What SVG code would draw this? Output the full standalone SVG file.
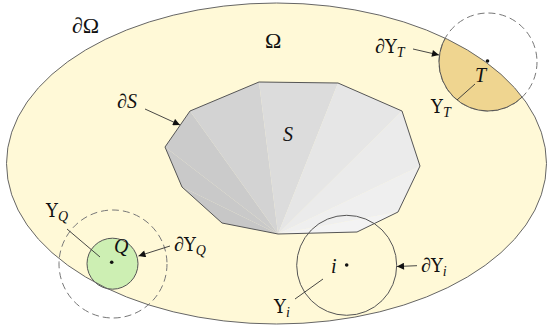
<svg xmlns="http://www.w3.org/2000/svg" width="547" height="332" viewBox="0 0 547 332">
<style>
text{font-family:"Liberation Serif","DejaVu Serif",serif;fill:#111}
.lbl{font-size:20px}
.big{font-size:22px}
.it{font-style:italic}
.up{font-family:"DejaVu Serif",serif;font-size:18px}
.sub{font-size:14px;font-style:italic;font-family:"Liberation Serif",serif}
.ln{stroke:#333;stroke-width:0.9;fill:none}
.dash{fill:none;stroke:#777;stroke-width:1;stroke-dasharray:7 4}
.edge{stroke:#555;stroke-width:1}
.dot{fill:#111}
</style>
<defs>
<clipPath id="inEll"><ellipse cx="276.5" cy="163.5" rx="270" ry="160.5"/></clipPath>
<marker id="ah" viewBox="0 0 10 10" refX="10" refY="5" markerWidth="8" markerHeight="7" markerUnits="userSpaceOnUse" orient="auto"><path d="M0,0 L10,5 L0,10 z" fill="#111"/></marker>
</defs>
<g id="domain">
<ellipse cx="276.5" cy="163.5" rx="270" ry="160.5" fill="#fff9d7"/>
<text class="big" x="72" y="33">∂Ω</text>
<text class="big" x="265" y="48">Ω</text>
</g>
<g id="S">
<g stroke="none">
<polygon points="278,234 222,223 182,187" fill="#c7c7c7"/>
<polygon points="278,234 182,187 165,147" fill="#c9c9c9"/>
<polygon points="278,234 165,147 190,111" fill="#cbcbcb"/>
<polygon points="278,234 190,111 259,82" fill="#d3d3d3"/>
<polygon points="278,234 259,82 338,83" fill="#dcdcdc"/>
<polygon points="278,234 338,83 402,111" fill="#e6e6e6"/>
<polygon points="278,234 402,111 420,166" fill="#ebebeb"/>
<polygon points="278,234 420,166 398,212" fill="#efefef"/>
<polygon points="278,234 398,212 357,232" fill="#f3f3f3"/>
</g>
<polygon points="259,82 338,83 402,111 420,166 398,212 357,232 278,234 222,223 182,187 165,147 190,111" fill="none" class="edge"/>
<text class="lbl it" x="283" y="141">S</text>
<text class="lbl" x="117" y="108">∂<tspan class="it">S</tspan></text>
</g>
<g id="T">
<circle cx="488" cy="62" r="49" class="dash"/>
<circle cx="488" cy="62" r="49" fill="#efd590" class="edge" clip-path="url(#inEll)"/>
<circle cx="487.5" cy="61" r="1.8" class="dot"/>
<text class="lbl it" x="475" y="82">T</text>
<text class="lbl" x="375" y="53">∂<tspan class="up">Υ</tspan><tspan class="sub" dy="4">T</tspan></text>
<text class="lbl" x="431" y="113"><tspan class="up">Υ</tspan><tspan class="sub" dy="4">T</tspan></text>
</g>
<g id="Q">
<circle cx="113" cy="264" r="54" class="dash"/>
<circle cx="112.5" cy="263.7" r="25.5" fill="#cdefb3" class="edge"/>
<circle cx="111.7" cy="262.3" r="1.8" class="dot"/>
<text class="lbl it" x="114" y="253">Q</text>
<text class="lbl" x="46" y="217"><tspan class="up">Υ</tspan><tspan class="sub" dy="4">Q</tspan></text>
<text class="lbl" x="174" y="251">∂<tspan class="up">Υ</tspan><tspan class="sub" dy="4">Q</tspan></text>
</g>
<g id="i">
<circle cx="346.7" cy="265.3" r="50" fill="none" class="edge"/>
<circle cx="346.7" cy="265" r="1.8" class="dot"/>
<text class="lbl it" x="331" y="273">i</text>
<text class="lbl" x="274" y="313"><tspan class="up">Υ</tspan><tspan class="sub" dy="4">i</tspan></text>
<text class="lbl" x="421" y="272">∂<tspan class="up">Υ</tspan><tspan class="sub" dy="4">i</tspan></text>
</g>
<ellipse cx="276.5" cy="163.5" rx="270" ry="160.5" fill="none" stroke="#666" stroke-width="1"/>
<g id="connectors">
<line x1="145" y1="109" x2="180" y2="125" class="ln" marker-end="url(#ah)"/>
<line x1="413" y1="49" x2="439" y2="55" class="ln" marker-end="url(#ah)"/>
<line x1="457" y1="100" x2="475" y2="84" class="ln"/>
<line x1="67" y1="229" x2="100" y2="257" class="ln"/>
<line x1="170" y1="246" x2="138.5" y2="256" class="ln" marker-end="url(#ah)"/>
<line x1="323" y1="279" x2="295" y2="299" class="ln"/>
<line x1="417" y1="265.7" x2="397" y2="266.5" class="ln" marker-end="url(#ah)"/>
</g>
</svg>
